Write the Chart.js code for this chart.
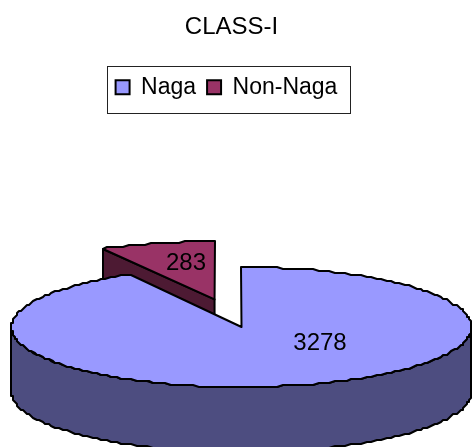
<!DOCTYPE html>
<html>
<head>
<meta charset="utf-8">
<style>
  html, body { margin: 0; padding: 0; background: #fff; }
  canvas { display: block; }
</style>
<script src="https://cdn.jsdelivr.net/npm/chart.js@4/dist/chart.umd.min.js"></script>
</head>
<body>
<canvas id="pieChart" width="472" height="447"></canvas>
<script>
const categories = ['Naga', 'Non-Naga'];
const values = [3278, 283];
const colors = ['#9999ff', '#993366'];
const sideColors = ['#4d4d80', '#4d1a33'];
const explode = [0, 109];
const radiiX = [230, 235];
const radiiY = [60, 58];
const labelSpots = [[320, 343], [186, 263]];

const fontName = '"Liberation Sans", Arial, sans-serif';
const pie = { x: 241.5, y: 327, squash: 60 / 230, depth: 65 };

// coarse outline, the original was drawn on a rough grid
function snap(v) {
    return Math.round((v - 1) / 2) * 2 + 1;
}

function ellipsePoints(cx, cy, rx, ry, from, to) {
    const pts = [];
    const steps = Math.max(2, Math.ceil((to - from) / (Math.PI / 120)));
    for (let i = 0; i <= steps; i++) {
        const a = from + (to - from) * i / steps;
        pts.push([snap(cx + Math.cos(a) * rx), snap(cy + Math.sin(a) * ry)]);
    }
    return pts;
}

function shape(ctx, pts, fill) {
    ctx.beginPath();
    pts.forEach((p, i) => i ? ctx.lineTo(p[0], p[1]) : ctx.moveTo(p[0], p[1]));
    ctx.closePath();
    ctx.fillStyle = fill;
    ctx.fill();
    ctx.stroke();
}

const pie3d = {
    id: 'pie3d',
    afterLayout(chart) {
        // legend row sits a little left of the title
        chart.legend.left -= 5;
        chart.legend.right -= 5;
    },
    beforeDatasetsDraw(chart) {
        const ctx = chart.ctx;
        const arcs = chart.getDatasetMeta(0).data;
        ctx.save();
        ctx.lineWidth = 2;
        ctx.lineJoin = 'round';
        ctx.strokeStyle = '#000';

        // back slice first, the big one sits over it
        [1, 0].forEach(i => {
            const arc = arcs[i];
            const mid = (arc.startAngle + arc.endAngle) / 2;
            const cx = pie.x + Math.cos(mid) * explode[i];
            const cy = pie.y + Math.sin(mid) * explode[i] * pie.squash;
            const rim = ellipsePoints(cx, cy, radiiX[i], radiiY[i], arc.startAngle, arc.endAngle);
            const d = pie.depth;

            if (i === 1) {
                // cut face between centre and left tip
                const tip = rim[0];
                shape(ctx, [tip, [cx, cy], [cx, cy + d], [tip[0], tip[1] + d]], sideColors[i]);
            } else {
                const low = ellipsePoints(cx, cy, radiiX[i], radiiY[i], 0, Math.PI);
                const wall = low.concat(low.slice().reverse().map(p => [p[0], p[1] + d]));
                shape(ctx, wall, sideColors[i]);
            }
            shape(ctx, rim.concat([[cx, cy]]), colors[i]);
        });

        ctx.fillStyle = '#000';
        ctx.font = '24px ' + fontName;
        ctx.textAlign = 'center';
        ctx.textBaseline = 'middle';
        values.forEach((v, i) => ctx.fillText(String(v), labelSpots[i][0], labelSpots[i][1]));
        ctx.restore();
        return false;
    },
    afterDraw(chart) {
        // box round the legend
        const ctx = chart.ctx;
        ctx.save();
        ctx.strokeStyle = '#222';
        ctx.lineWidth = 1;
        ctx.strokeRect(107.5, 66.5, 243, 47);
        ctx.restore();
    }
};

new Chart(document.getElementById('pieChart'), {
    type: 'pie',
    data: {
        labels: categories,
        datasets: [{
            data: values,
            backgroundColor: colors,
            borderColor: '#000',
            borderWidth: 2
        }]
    },
    options: {
        responsive: false,
        animation: false,
        layout: { padding: { right: 9 } },
        plugins: {
            title: {
                display: true,
                text: 'CLASS-I',
                color: '#000',
                font: { family: fontName, size: 24, weight: 'normal' },
                padding: { top: 13, bottom: 23 }
            },
            legend: {
                position: 'top',
                labels: {
                    color: '#000',
                    font: { family: fontName, size: 23 },
                    boxWidth: 14,
                    boxHeight: 14,
                    padding: 11
                }
            },
            tooltip: { enabled: false }
        }
    },
    plugins: [pie3d]
});
</script>
</body>
</html>
